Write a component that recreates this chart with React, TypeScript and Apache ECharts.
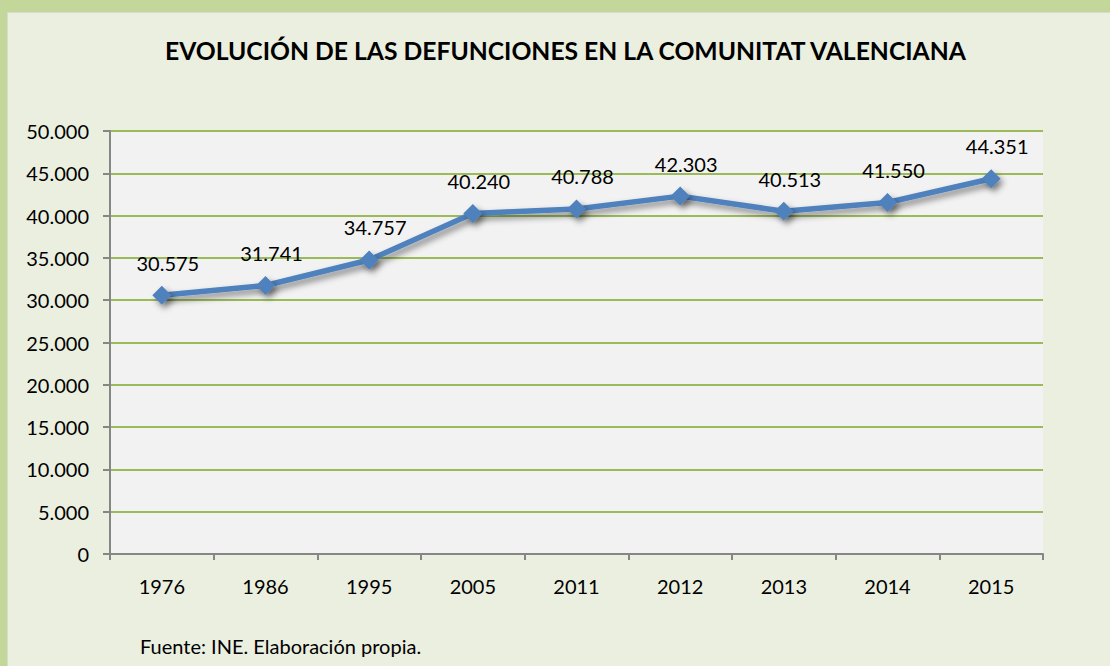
import React, { useEffect, useRef } from "react";
import * as echarts from "echarts";

const years = ["1976", "1986", "1995", "2005", "2011", "2012", "2013", "2014", "2015"];
const deaths = [30575, 31741, 34757, 40240, 40788, 42303, 40513, 41550, 44351];
const titleText = "EVOLUCIÓN DE LAS DEFUNCIONES EN LA COMUNITAT VALENCIANA";
const sourceText = "Fuente: INE. Elaboración propia.";

const fmt = (v: number) => {
  const s = String(Math.round(v));
  return s.replace(/\B(?=(\d{3})+(?!\d))/g, ".");
};

const FONT = "Lato, 'Open Sans', sans-serif";

export default function App() {
  const ref = useRef<HTMLDivElement>(null);
  useEffect(() => {
    document.body.style.margin = "0";
    const chart = echarts.init(ref.current!, null, { renderer: "svg" });
    chart.setOption({
      animation: false,
      backgroundColor: "transparent",
      textStyle: { fontFamily: FONT },
      title: {
        text: titleText,
        left: 160,
        top: 33,
        textStyle: { fontFamily: FONT, fontSize: 24.7, fontWeight: "bold", color: "#000" },
      },
      graphic: [
        {
          type: "text",
          left: 140,
          top: 636,
          style: { text: sourceText, fontFamily: FONT, fontSize: 20, fill: "#000" },
        },
      ],
      grid: {
        left: 110,
        right: 67,
        top: 131,
        bottom: 112,
        show: true,
        backgroundColor: "#f2f2f2",
        borderWidth: 0,
      },
      xAxis: {
        type: "category",
        data: years,
        boundaryGap: true,
        axisLine: { show: true, lineStyle: { color: "#868686", width: 2 } },
        axisTick: { show: true, length: 6, lineStyle: { color: "#868686", width: 2 } },
        axisLabel: { color: "#000", fontSize: 20, margin: 22, fontFamily: FONT },
        splitLine: { show: false },
      },
      yAxis: {
        type: "value",
        min: 0,
        max: 50000,
        interval: 5000,
        axisLine: { show: true, lineStyle: { color: "#868686", width: 2 } },
        axisTick: { show: true, length: 7, lineStyle: { color: "#868686", width: 2 } },
        axisLabel: {
          color: "#000",
          fontSize: 20,
          margin: 21,
          fontFamily: FONT,
          formatter: (v: number) => fmt(v),
        },
        splitLine: { show: true, lineStyle: { color: "#9bbb59", width: 2 } },
      },
      series: [
        {
          type: "line",
          data: deaths,
          symbol: "diamond",
          symbolSize: 19,
          lineStyle: {
            color: "#4f81bd",
            width: 5.5,
            shadowColor: "rgba(0,0,0,0.45)",
            shadowBlur: 6,
            shadowOffsetX: 3,
            shadowOffsetY: 4,
          },
          itemStyle: {
            color: "#4f81bd",
            shadowColor: "rgba(0,0,0,0.45)",
            shadowBlur: 6,
            shadowOffsetX: 3,
            shadowOffsetY: 4,
          },
          label: {
            show: true,
            position: "top",
            distance: 13,
            offset: [6, 0],
            color: "#000",
            fontSize: 20,
            fontFamily: FONT,
            formatter: (p: any) => fmt(p.value),
          },
        },
      ],
    });
    return () => chart.dispose();
  }, []);
  return (
    <div
      style={{
        position: "absolute",
        left: 0,
        top: 0,
        width: 1110,
        height: 666,
        background: "#c4d79b",
        overflow: "hidden",
      }}
    >
      <div
        style={{
          position: "absolute",
          left: 7,
          top: 12,
          width: 1110,
          height: 666,
          background: "#ebefdf",
          borderTop: "1px solid #d8dccc",
          borderLeft: "1px solid #d8dccc",
        }}
      />
      <div ref={ref} style={{ position: "absolute", left: 0, top: 0, width: 1110, height: 666 }} />
    </div>
  );
}
